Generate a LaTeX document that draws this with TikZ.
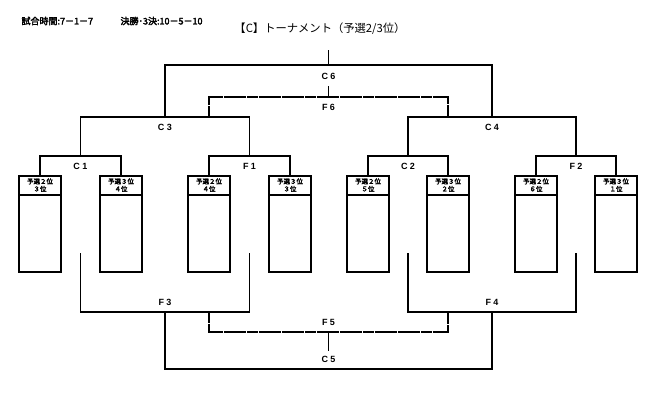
\documentclass[tikz,border=0pt]{standalone}
\usepackage{fontspec}
\setmainfont{Noto Sans CJK JP}[AutoFakeBold=3]
\newfontfamily\latn{Liberation Sans}
\usetikzlibrary{positioning}

\begin{document}
\begin{tikzpicture}[x=1pt,y=-1pt,line width=1.1pt,
   entry/.style={draw,line width=1.8pt,minimum width=42pt,minimum height=96pt,inner sep=0pt},
   head/.style={font=\fontsize{6.5}{7.5}\selectfont\bfseries,align=center,inner sep=0pt},
   lbl/.style={font=\latn\fontsize{9}{10}\selectfont\bfseries,inner sep=1pt},
   info/.style={font=\fontsize{9}{10}\selectfont\bfseries,anchor=west,inner sep=0pt},
   dline/.style={dash pattern=on 11pt off 0.6pt}]
\useasboundingbox (0,0) rectangle (650,413);

\node[info] (tm) at (21,21) {試合時間:7－1－7};
\node[info] (fin) at (120,21) {決勝･3決:10－5－10};
\node[font=\fontsize{11.3}{13}\selectfont] (ttl) at (320,29) {【C】トーナメント（予選2/3位）};

\foreach \n/\x/\t in {b1/40/{予選２位\\３位},b2/121/{予選３位\\４位},
    b3/209/{予選２位\\４位},b4/290/{予選３位\\３位},b5/368/{予選２位\\５位},
    b6/448/{予選３位\\２位},b7/536/{予選２位\\６位},b8/616/{予選３位\\１位}}{
  \node[entry] (\n) at (\x,224) {};
  \draw[line width=1.8pt] ([yshift=-20pt]\n.north west) -- ([yshift=-20pt]\n.north east);
  \node[head] at ([yshift=-10pt]\n.north) {\t};
}

% upper half
\coordinate (mc1) at (80.5,156);
\coordinate (mf1) at (249.5,156);
\coordinate (mc2) at (408,156);
\coordinate (mf2) at (576,156);
\coordinate (mc3) at (165,117);
\coordinate (mc4) at (492,117);
\coordinate (mc6) at (328.5,65);
\coordinate (mf6) at (328.5,97);
\coordinate (top) at (328.5,50);
\coordinate (s6) at (328.5,86);

\draw (b1.north) |- (mc1) -| (b2.north);
\draw (b3.north) |- (mf1) -| (b4.north);
\draw (b5.north) |- (mc2) -| (b6.north);
\draw (b7.north) |- (mf2) -| (b8.north);
\draw (mc1) |- (mc3) -| (mf1);
\draw (mc2) |- (mc4) -| (mf2);
\draw (mc3) |- (mc6) -| (mc4);
\draw (top) -- (mc6);
\draw[dline] (b3.north |- mc3) |- (mf6) -| (b6.north |- mc4);
\draw (s6) -- (mf6);

% lower half
\coordinate (e1) at (80.5,253);
\coordinate (e2) at (249.5,253);
\coordinate (e3) at (408,253);
\coordinate (e4) at (576,253);
\coordinate (mf3) at (165,312);
\coordinate (mf4) at (492,312);
\coordinate (mf5) at (328.5,332);
\coordinate (mc5) at (328.5,369);
\coordinate (s5) at (328.5,351);

\draw (e1) |- (mf3) -| (e2);
\draw (e3) |- (mf4) -| (e4);
\draw (mf3) |- (mc5) -| (mf4);
\draw[dline] (b3.south |- mf3) |- (mf5) -| (b6.south |- mf4);
\draw (mf5) -- (s5);

\node[lbl] (lc1) at (80.5,166) {C 1};
\node[lbl] (lf1) at (249.5,166) {F 1};
\node[lbl] (lc2) at (408,166) {C 2};
\node[lbl] (lf2) at (576,166) {F 2};
\node[lbl] (lc3) at (165,127) {C 3};
\node[lbl] (lc4) at (492,127) {C 4};
\node[lbl] (lc6) at (328.5,76) {C 6};
\node[lbl] (lf6) at (328.5,107) {F 6};
\node[lbl] (lf3) at (165,302) {F 3};
\node[lbl] (lf4) at (492,302) {F 4};
\node[lbl] (lf5) at (328.5,322) {F 5};
\node[lbl] (lc5) at (328.5,359) {C 5};
\end{tikzpicture}
\end{document}
